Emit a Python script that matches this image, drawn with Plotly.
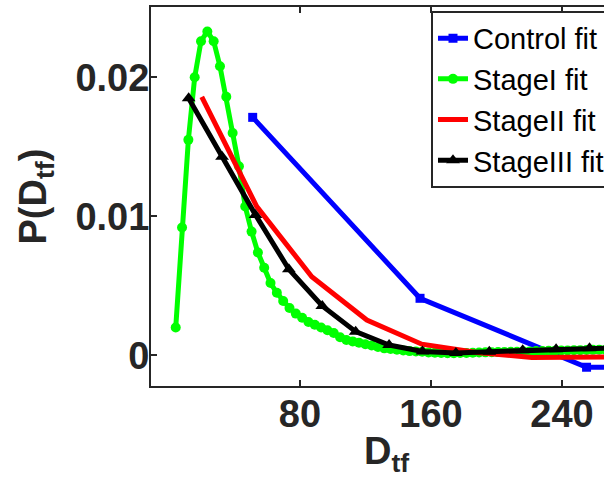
import plotly.graph_objects as go

# Fitted distributions of D_tf for each group
control_x = [51.1, 153.3, 255.0, 356.7]
control_y = [0.01712, 0.0041, -0.00086, -0.00088]

stage1_x = [4.1, 7.96, 11.82, 15.68, 19.54, 23.4, 27.26, 31.12, 34.98, 38.84,
            42.7, 46.56, 50.42, 54.28, 58.14, 62.0, 65.86, 69.72, 73.58, 77.44,
            81.3, 85.16, 89.02, 92.88, 96.74, 100.6, 104.46, 108.32, 112.18, 116.04,
            119.9, 123.76, 127.62, 131.48, 135.34, 139.2, 143.06, 146.92, 150.78, 154.64,
            158.5, 162.36, 166.22, 170.08, 173.94, 177.8, 181.66, 185.52, 189.38, 193.24,
            197.1, 200.96, 204.82, 208.68, 212.54, 216.4, 220.26, 224.12, 227.98, 231.84,
            235.7, 239.56, 243.42, 247.28, 251.14, 255.0, 258.86, 262.72, 266.58, 270.44]
stage1_y = [0.0020, 0.0092, 0.0155, 0.0200, 0.0226, 0.0233, 0.0226, 0.0208, 0.0186, 0.0160,
            0.0136, 0.0107, 0.0089, 0.0074, 0.0063, 0.0052, 0.0045, 0.0039, 0.0034, 0.0030,
            0.0027, 0.0024, 0.0022, 0.0020, 0.0018, 0.0016, 0.0013, 0.0011, 0.0010, 0.0009,
            0.0008, 0.0007, 0.0006, 0.0005, 0.00045, 0.0004, 0.00035, 0.0003, 0.00028, 0.00025,
            0.0002, 0.00018, 0.00016, 0.00015, 0.00015, 0.00016, 0.00017, 0.00018, 0.0002, 0.00021,
            0.00022, 0.00023, 0.00024, 0.00025, 0.00026, 0.00027, 0.00028, 0.0003, 0.00031, 0.00032,
            0.00033, 0.00034, 0.00035, 0.00036, 0.00037, 0.00038, 0.00039, 0.0004, 0.0004, 0.00041]

stage2_x = [20.0, 53.6, 87.2, 120.8, 154.4, 188.0, 221.6, 255.2, 288.8]
stage2_y = [0.0186, 0.0107, 0.00565, 0.00254, 0.0008, 0.0002, -0.00016, -0.00015, -0.0001]

stage3_x = [12.0, 32.4, 52.8, 73.2, 93.6, 114.0, 134.4, 154.8, 175.2, 195.6, 216.0, 236.4, 256.8, 277.2]
stage3_y = [0.01849, 0.01429, 0.0101, 0.00619, 0.00355, 0.0017, 0.00074, 0.00028, 0.00017,
            0.00026, 0.00036, 0.00044, 0.0005, 0.00054]

x_ticks = [80, 160, 240]
y_ticks = [0, 0.01, 0.02]
y_tick_text = ["0", "0.01", "0.02"]

FONT = "Liberation Sans, Arial, sans-serif"
AXIS_COLOR = "#262626"

fig = go.Figure()
fig.add_trace(go.Scatter(x=control_x, y=control_y, name="Control fit", mode="lines+markers",
                         line=dict(color="#0000ff", width=5),
                         marker=dict(symbol="square", size=9, color="#0000ff")))
fig.add_trace(go.Scatter(x=stage1_x, y=stage1_y, name="StageI fit", mode="lines+markers",
                         line=dict(color="#00ff00", width=5),
                         marker=dict(symbol="circle", size=10, color="#00ff00")))
fig.add_trace(go.Scatter(x=stage2_x, y=stage2_y, name="StageII fit", mode="lines",
                         line=dict(color="#ff0000", width=5)))
fig.add_trace(go.Scatter(x=stage3_x, y=stage3_y, name="StageIII fit", mode="lines+markers",
                         line=dict(color="#000000", width=5),
                         marker=dict(symbol="triangle-up", size=12, color="#000000")))

tick_font = dict(family=FONT, size=38, color=AXIS_COLOR, weight="bold")

fig.update_xaxes(range=[-11.0, 265.65], tickvals=x_ticks, ticks="inside", ticklen=6,
                 tickwidth=2, tickcolor=AXIS_COLOR, showline=True, linewidth=2,
                 linecolor=AXIS_COLOR, mirror="ticks", showgrid=False, zeroline=False,
                 tickfont=tick_font, ticklabelstandoff=-7)
fig.update_yaxes(range=[-0.00221, 0.02506], tickvals=y_ticks, ticktext=y_tick_text,
                 ticks="inside", ticklen=6, tickwidth=2, tickcolor=AXIS_COLOR,
                 showline=True, linewidth=2, linecolor=AXIS_COLOR, mirror=False,
                 showgrid=False, zeroline=False, tickfont=tick_font, ticklabelstandoff=-8)

title_font = dict(family=FONT, size=38, color=AXIS_COLOR, weight="bold")
fig.add_annotation(text="D<sub>tf</sub>", xref="paper", yref="paper", x=0.5188, y=0,
                   xanchor="center", yanchor="top", yshift=-42, showarrow=False,
                   font=title_font)
fig.add_annotation(text="P(D<sub>tf</sub>)", xref="paper", yref="paper", x=-0.2539, y=0.5,
                   xanchor="center", yanchor="middle", textangle=-90, showarrow=False,
                   font=title_font)

fig.update_layout(
    width=604, height=491,
    margin=dict(l=151, r=0, t=7, b=105, autoexpand=False),
    plot_bgcolor="white", paper_bgcolor="white",
    showlegend=True,
    legend=dict(x=0.6181, y=0.99, xanchor="left", yanchor="top",
                bgcolor="white", bordercolor="#262626", borderwidth=2,
                font=dict(family=FONT, size=29, color="black"),
                itemwidth=30, tracegroupgap=0),
)

fig.write_html("out.html")
